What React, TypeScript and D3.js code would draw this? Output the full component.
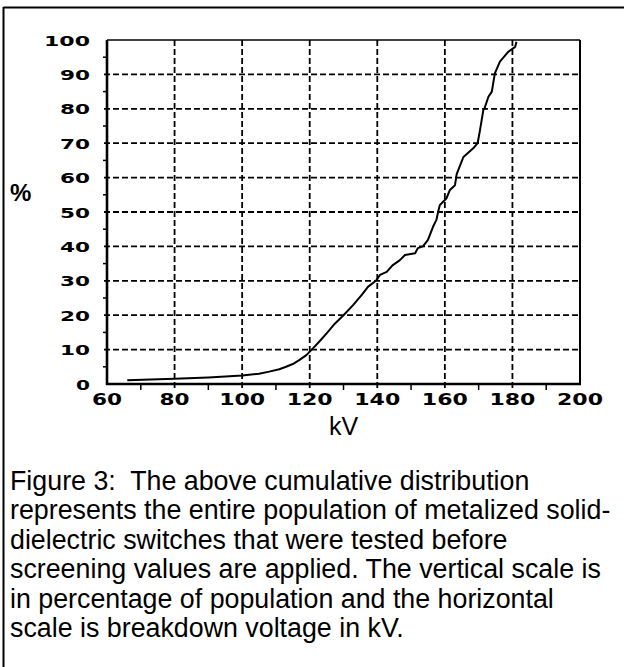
import React from "react";
import * as d3 from "d3";

// cumulative distribution
const kvValues = [66, 80, 90, 100, 105, 108, 111, 113, 115, 117, 119, 120.6, 123, 125, 127.5, 130, 132.9, 135.4, 137.3, 139.6, 140.8, 142.8, 144.5, 146.7, 148.2, 151.2, 152, 153.5, 155, 156.5, 157.5, 158, 158.5, 160.5, 161.5, 163, 163.5, 165.5, 168.4, 169.7, 170.4, 171.4, 171.7, 172.9, 173.9, 174.8, 176.3, 178.8, 180.8, 181.2];
const pctValues = [1.1, 1.5, 1.9, 2.5, 3.0, 3.6, 4.3, 5.0, 5.8, 7.0, 8.4, 10, 12.5, 14.7, 17.6, 20, 23, 25.9, 28.3, 30, 31.7, 32.6, 34.5, 36, 37.5, 38, 39.5, 40, 41.9, 45.7, 47.7, 50, 52, 54, 56.4, 57.8, 61, 66, 68.5, 70, 73.8, 79.7, 80, 83.5, 85, 90.3, 93.7, 96.6, 98, 99.5];

const xTicks = [60, 80, 100, 120, 140, 160, 180, 200];
const xMinorTicks = [70, 90, 110, 130, 150, 170, 190];
const yTicks = [0, 10, 20, 30, 40, 50, 60, 70, 80, 90, 100];
const yMinorTicks = [5, 15, 25, 35, 45, 55, 65, 75, 85, 95];

const captionLines = [
  "Figure 3:  The above cumulative distribution",
  "represents the entire population of metalized solid-",
  "dielectric switches that were tested before",
  "screening values are applied. The vertical scale is",
  "in percentage of population and the horizontal",
  "scale is breakdown voltage in kV.",
];

const width = 624;
const height = 667;
const plot = { left: 107, right: 580, top: 40, bottom: 384 };

const tickFont = "'DejaVu Sans', sans-serif";
const textFont = "'Liberation Sans', Arial, Helvetica, sans-serif";

export default function App() {
  const x = d3.scaleLinear().domain([60, 200]).range([plot.left, plot.right]);
  const y = d3.scaleLinear().domain([0, 100]).range([plot.bottom, plot.top]);

  const points: [number, number][] = kvValues.map((v, i) => [v, pctValues[i]]);
  const line = d3
    .line<[number, number]>()
    .x((d) => x(d[0]))
    .y((d) => y(d[1]));

  const dash = "6 3";

  return (
    <div style={{ position: "absolute", left: 0, top: 0 }}>
      <svg width={width} height={height} style={{ display: "block", background: "white" }}>
        {/* outer frame (top and left) */}
        <line x1={3.5} y1={7.5} x2={width} y2={7.5} stroke="#000" strokeWidth={2} />
        <line x1={3.5} y1={7} x2={3.5} y2={height} stroke="#000" strokeWidth={2} />

        {/* horizontal grid */}
        {yTicks
          .filter((t) => t > 0 && t < 100)
          .map((t) => (
            <line
              key={"hg" + t}
              x1={plot.left - 3}
              x2={plot.right}
              y1={y(t)}
              y2={y(t)}
              stroke="#000"
              strokeWidth={1.8}
              strokeDasharray={dash}
            />
          ))}
        {/* vertical grid */}
        {xTicks
          .filter((t) => t > 60 && t < 200)
          .map((t) => (
            <line
              key={"vg" + t}
              x1={x(t)}
              x2={x(t)}
              y1={plot.top}
              y2={plot.bottom + 4}
              stroke="#000"
              strokeWidth={1.8}
              strokeDasharray={dash}
            />
          ))}

        {/* minor ticks */}
        {yMinorTicks.map((t) => (
          <line key={"ym" + t} x1={plot.left - 4} x2={plot.left} y1={y(t)} y2={y(t)} stroke="#000" strokeWidth={1.5} />
        ))}
        {xMinorTicks.map((t) => (
          <line key={"xm" + t} x1={x(t)} x2={x(t)} y1={plot.bottom} y2={plot.bottom + 6} stroke="#000" strokeWidth={1.5} />
        ))}

        {/* plot border */}
        <line x1={plot.left} x2={plot.right} y1={plot.top} y2={plot.top} stroke="#000" strokeWidth={1.5} />
        <line x1={plot.right} x2={plot.right} y1={plot.top} y2={plot.bottom} stroke="#000" strokeWidth={2} />
        <line x1={plot.left} x2={plot.left} y1={plot.top} y2={plot.bottom + 1} stroke="#000" strokeWidth={2.6} />
        <line x1={plot.left - 1} x2={plot.right + 1} y1={plot.bottom} y2={plot.bottom} stroke="#000" strokeWidth={2.6} />

        {/* curve */}
        <path d={line(points) ?? ""} fill="none" stroke="#000" strokeWidth={2} strokeLinejoin="round" />

        {/* y tick labels */}
        {yTicks.map((t) => {
          const s = String(t);
          return (
            <text
              key={"yl" + t}
              x={90}
              y={y(t) + 5.5}
              textAnchor="end"
              fontFamily={tickFont}
              fontWeight="bold"
              fontSize={14.5}
              textLength={s.length * 16 - 2}
              lengthAdjust="spacingAndGlyphs"
            >
              {s}
            </text>
          );
        })}
        {/* x tick labels */}
        {xTicks.map((t) => {
          const s = String(t);
          return (
            <text
              key={"xl" + t}
              x={x(t)}
              y={plot.bottom + 21}
              textAnchor="middle"
              fontFamily={tickFont}
              fontWeight="bold"
              fontSize={15}
              textLength={s.length * 16 - 2}
              lengthAdjust="spacingAndGlyphs"
            >
              {s}
            </text>
          );
        })}

        {/* axis titles */}
        <text x={10} y={201} fontFamily={textFont} fontWeight="bold" fontSize={24}>
          %
        </text>
        <text x={(plot.left + plot.right) / 2} y={435} textAnchor="middle" fontFamily={textFont} fontSize={25}>
          kV
        </text>

        {/* caption */}
        {captionLines.map((l, i) => (
          <text
            key={"c" + i}
            x={10}
            y={490 + i * 29.4}
            fontFamily={textFont}
            fontSize={26.8}
            style={{ whiteSpace: "pre" }}
          >
            {l}
          </text>
        ))}
      </svg>
    </div>
  );
}
